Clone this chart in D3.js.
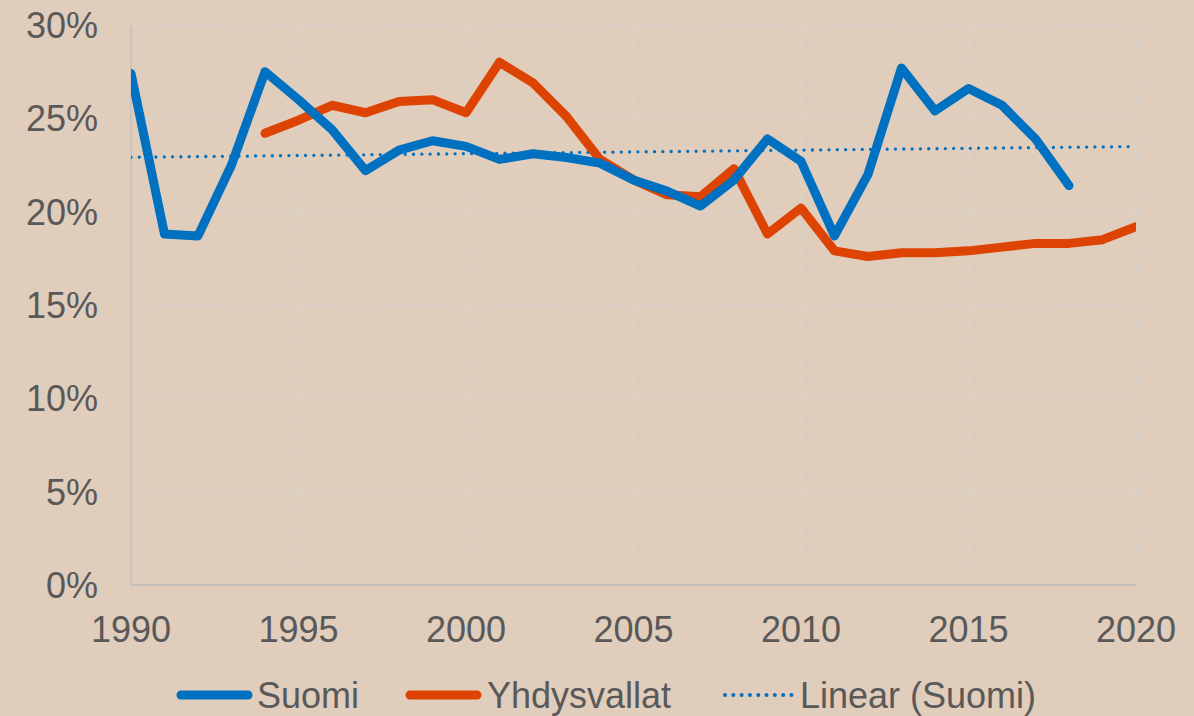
<!DOCTYPE html>
<html>
<head>
<meta charset="utf-8">
<script src="https://cdn.jsdelivr.net/npm/d3@7"></script>
<style>
  html, body { margin: 0; padding: 0; background: #E1CDBB; }
  text { font-family: "Liberation Sans", Arial, sans-serif; fill: #595959; }
</style>
</head>
<body>
<div id="chart"></div>
<script>
// values, percent
var suomiYears = d3.range(1990, 2019);
var suomiValues = [27.4, 18.8, 18.7, 22.5, 27.5, 26.0, 24.4, 22.2, 23.3, 23.8,
                   23.5, 22.8, 23.1, 22.9, 22.6, 21.7, 21.1, 20.3, 21.7, 23.9,
                   22.7, 18.7, 22.0, 27.7, 25.4, 26.6, 25.7, 23.9, 21.4];

var usaYears = d3.range(1994, 2021);
var usaValues = [24.2, 24.9, 25.7, 25.3, 25.9, 26.0, 25.3, 28.0, 26.9, 25.1,
                 22.8, 21.7, 20.9, 20.8, 22.3, 18.8, 20.2, 17.9, 17.6, 17.8,
                 17.8, 17.9, 18.1, 18.3, 18.3, 18.5, 19.2];

var xTicks = [1990, 1995, 2000, 2005, 2010, 2015, 2020];
var yTicks = [0, 5, 10, 15, 20, 25, 30];
var legendLabels = ["Suomi", "Yhdysvallat", "Linear (Suomi)"];

(function() {
  var W = 1194, H = 716;
  var margin = { top: 25, left: 131, right: 58, bottom: 131 },
      width = W - margin.left - margin.right,
      height = H - margin.top - margin.bottom;

  var svg = d3.select("#chart")
    .append("svg")
    .attr("width", W)
    .attr("height", H);

  var g = svg.append("g")
    .attr("transform", "translate(" + margin.left + "," + margin.top + ")");

  var x = d3.scaleLinear().domain([1990, 2020]).range([0, width]);
  var y = d3.scaleLinear().domain([0, 30]).range([height, 0]);

  var grid = "#D8D4D0";

  // horizontal gridlines
  g.selectAll(".hgrid")
    .data(yTicks.filter(function(d) { return d > 0; }))
    .enter().append("line")
    .attr("x1", 0).attr("x2", width)
    .attr("y1", function(d) { return y(d); })
    .attr("y2", function(d) { return y(d); })
    .attr("stroke", grid)
    .attr("stroke-width", 1.7)
    .attr("stroke-dasharray", "9,5");

  // vertical gridlines
  g.selectAll(".vgrid")
    .data(xTicks.filter(function(d) { return d > 1990; }))
    .enter().append("line")
    .attr("x1", function(d) { return x(d); })
    .attr("x2", function(d) { return x(d); })
    .attr("y1", 0).attr("y2", height)
    .attr("stroke", grid)
    .attr("stroke-width", 1.7)
    .attr("stroke-dasharray", "9,5");

  // axes lines
  g.append("line")
    .attr("x1", 0).attr("x2", 0).attr("y1", 0).attr("y2", height)
    .attr("stroke", "#C4C0BC").attr("stroke-width", 1.5);
  g.append("line")
    .attr("x1", 0).attr("x2", width).attr("y1", height).attr("y2", height)
    .attr("stroke", "#C4C0BC").attr("stroke-width", 2);

  // tick labels
  g.selectAll(".ylab")
    .data(yTicks)
    .enter().append("text")
    .attr("x", -33)
    .attr("y", function(d) { return y(d); })
    .attr("dy", "0.36em")
    .attr("text-anchor", "end")
    .attr("font-size", "36px")
    .text(function(d) { return d + "%"; });

  g.selectAll(".xlab")
    .data(xTicks)
    .enter().append("text")
    .attr("x", function(d) { return x(d); })
    .attr("y", height + 57)
    .attr("text-anchor", "middle")
    .attr("font-size", "36px")
    .text(function(d) { return d; });

  // clip lines to the plot's x range
  svg.append("defs").append("clipPath").attr("id", "plotclip")
    .append("rect")
    .attr("x", 0).attr("y", -20)
    .attr("width", width).attr("height", height + 40);

  var plot = g.append("g").attr("clip-path", "url(#plotclip)");

  var line = d3.line()
    .x(function(d) { return x(d[0]); })
    .y(function(d) { return y(d[1]); });

  // linear trend of Suomi (least squares), extended to 2020
  var mx = d3.mean(suomiYears), my = d3.mean(suomiValues);
  var sxy = d3.sum(suomiYears, function(t, i) { return (t - mx) * (suomiValues[i] - my); });
  var sxx = d3.sum(suomiYears, function(t) { return (t - mx) * (t - mx); });
  var slope = sxy / sxx, icept = my - slope * mx;
  var trend = [1990, 2020].map(function(t) { return [t, icept + slope * t]; });

  plot.append("path")
    .datum(trend)
    .attr("d", line)
    .attr("fill", "none")
    .attr("stroke", "#0070C0")
    .attr("stroke-width", 3.3)
    .attr("stroke-linecap", "round")
    .attr("stroke-dasharray", "0.01,8.3");

  plot.append("path")
    .datum(usaYears.map(function(t, i) { return [t, usaValues[i]]; }))
    .attr("d", line)
    .attr("fill", "none")
    .attr("stroke", "#DD4403")
    .attr("stroke-width", 9)
    .attr("stroke-linejoin", "round")
    .attr("stroke-linecap", "round");

  plot.append("path")
    .datum(suomiYears.map(function(t, i) { return [t, suomiValues[i]]; }))
    .attr("d", line)
    .attr("fill", "none")
    .attr("stroke", "#0070C0")
    .attr("stroke-width", 9)
    .attr("stroke-linejoin", "round")
    .attr("stroke-linecap", "round");

  // legend
  var legendItems = [
    { x1: 181, x2: 248, tx: 257, color: "#0070C0", w: 9, dash: null },
    { x1: 410, x2: 477, tx: 487, color: "#DD4403", w: 9, dash: null },
    { x1: 725, x2: 792, tx: 800, color: "#0070C0", w: 4, dash: "0.01,8.3" }
  ];
  var legend = svg.append("g").attr("transform", "translate(0,695)");
  legendLabels.forEach(function(name, i) {
    var s = legendItems[i];
    var ln = legend.append("line")
      .attr("x1", s.x1).attr("x2", s.x2)
      .attr("y1", 0).attr("y2", 0)
      .attr("stroke", s.color)
      .attr("stroke-width", s.w)
      .attr("stroke-linecap", "round");
    if (s.dash) ln.attr("stroke-dasharray", s.dash);
    legend.append("text")
      .attr("x", s.tx)
      .attr("y", 13)
      .attr("font-size", "36px")
      .text(name);
  });
})();
</script>
</body>
</html>
